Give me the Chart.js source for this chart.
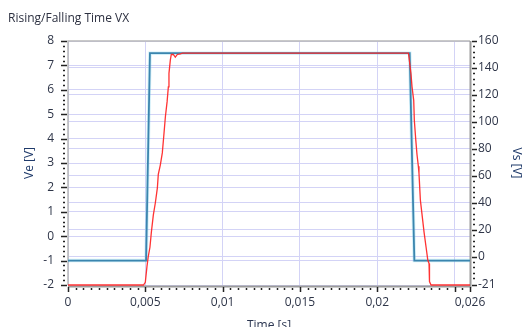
<!DOCTYPE html>
<html>
<head>
<meta charset="utf-8">
<title>Rising/Falling Time VX</title>
<script src="https://cdn.jsdelivr.net/npm/chart.js@4.4.1/dist/chart.umd.min.js"></script>
<style>
  html, body { margin: 0; padding: 0; background: #fff; overflow: hidden; }
  #wrap { width: 525px; height: 335px; }
</style>
</head>
<body>
<div id="wrap"><canvas id="chart" width="525" height="335"></canvas></div>
<script>
// Ve trace (left axis, volts)
const veTime = [0, 0.00505, 0.0053, 0.0221, 0.0224, 0.026];
const veValues = [-1, -1, 7.5, 7.5, -1, -1];

// Vs trace (right axis, volts)
const vsTime = [
  0, 0.00488, 0.00500, 0.00511, 0.00519, 0.00530, 0.00539, 0.00552, 0.00565,
  0.00578, 0.00584, 0.00597, 0.00610, 0.00619, 0.00630, 0.00641, 0.00649,
  0.00653, 0.00662, 0.00668, 0.00681, 0.00694, 0.00707, 0.00727, 0.00740,
  0.02202, 0.02218, 0.02225, 0.02236, 0.02240, 0.02249, 0.02257, 0.02266,
  0.02270, 0.02279, 0.02290, 0.02303, 0.02316, 0.02327, 0.02335, 0.02338,
  0.02348, 0.026
];
const vsValues = [
  -21, -21, -19, -7, 0, 7, 18, 31, 40,
  51, 61, 68, 77, 89, 104, 115, 126,
  136, 146, 150, 150, 148, 150, 150.5, 151,
  151, 136, 126, 116, 101, 87, 76, 67,
  62, 42, 31, 18, 7, -2.5, -5, -18.5,
  -21, -21
];

// Axis ticks
const xTicks = [0, 0.005, 0.01, 0.015, 0.02, 0.025, 0.026];
const xTickLabels = ['0', '0,005', '0,01', '0,015', '0,02', '', '0,026'];
const veTicks = [-2, -1, 0, 1, 2, 3, 4, 5, 6, 7, 8];
const vsTicks = [-21, 0, 20, 40, 60, 80, 100, 120, 140, 160];

const textColor = '#2e3548';
const gridColor = '#d3d3f6';

Chart.defaults.font.family = '"Open Sans", sans-serif';
Chart.defaults.font.size = 12;
Chart.defaults.color = textColor;

const toPoints = (xs, ys) => xs.map((x, i) => ({ x: x, y: ys[i] }));

/**
 * Draws the plot frame (behind the traces) plus major and minor tick marks
 */
const axisMarks = {
  id: 'axisMarks',
  beforeDatasetsDraw(chart) {
    const { ctx, chartArea: a } = chart;
    ctx.save();
    ctx.lineWidth = 1.5;
    ctx.strokeStyle = '#b8b8b8';
    ctx.beginPath();
    ctx.moveTo(a.left, a.bottom);
    ctx.lineTo(a.left, a.top);
    ctx.lineTo(a.right, a.top);
    ctx.stroke();
    ctx.lineWidth = 2;
    ctx.strokeStyle = '#9a9a9a';
    ctx.beginPath();
    ctx.moveTo(a.right + 0.5, a.top);
    ctx.lineTo(a.right + 0.5, a.bottom + 1.5);
    ctx.lineTo(a.left, a.bottom + 1.5);
    ctx.stroke();
    ctx.restore();
  },
  afterDraw(chart) {
    const { ctx, chartArea: a, scales } = chart;
    ctx.save();
    ctx.strokeStyle = '#222';
    ctx.lineWidth = 1.5;
    const hTick = (x1, x2, y) => {
      ctx.beginPath();
      ctx.moveTo(x1, Math.round(y) + 0.5);
      ctx.lineTo(x2, Math.round(y) + 0.5);
      ctx.stroke();
    };
    const vTick = (x, y1, y2) => {
      ctx.beginPath();
      ctx.moveTo(Math.round(x) + 0.5, y1);
      ctx.lineTo(Math.round(x) + 0.5, y2);
      ctx.stroke();
    };

    // left axis
    veTicks.forEach(v => hTick(a.left - 7, a.left - 1, scales.y.getPixelForValue(v)));
    for (let v = -2; v <= 8.001; v += 0.2) {
      if (Math.abs(v - Math.round(v)) < 0.01) continue;
      hTick(a.left - 5, a.left - 3, scales.y.getPixelForValue(v));
    }

    // right axis
    vsTicks.forEach(v => hTick(a.right + 2, a.right + 7, scales.y2.getPixelForValue(v)));
    for (let v = -20; v <= 160; v += 4) {
      if (v % 20 === 0) continue;
      hTick(a.right + 3, a.right + 5, scales.y2.getPixelForValue(v));
    }

    // bottom axis
    xTicks.forEach(v => vTick(scales.x.getPixelForValue(v), a.bottom + 2, a.bottom + 7));
    for (let i = 1; i < 52; i++) {
      if (i % 10 === 0) continue;
      vTick(scales.x.getPixelForValue(i * 0.0005), a.bottom + 3, a.bottom + 5);
    }

    ctx.restore();
  }
};

const ctx = document.getElementById('chart').getContext('2d');
const chart = new Chart(ctx, {
  type: 'line',
  data: {
    datasets: [
      {
        label: 'Vs',
        data: toPoints(vsTime, vsValues),
        yAxisID: 'y2',
        borderColor: 'rgba(255, 40, 40, 0.95)',
        borderWidth: 1.3,
        pointRadius: 0,
        tension: 0,
        clip: false
      },
      {
        label: 'Ve halo',
        data: toPoints(veTime, veValues),
        yAxisID: 'y',
        borderColor: 'rgba(120, 205, 235, 0.35)',
        borderWidth: 3.5,
        pointRadius: 0,
        tension: 0,
        clip: false
      },
      {
        label: 'Ve',
        data: toPoints(veTime, veValues),
        yAxisID: 'y',
        borderColor: '#1b5f8e',
        borderWidth: 1.8,
        pointRadius: 0,
        tension: 0,
        clip: false
      }
    ]
  },
  options: {
    responsive: false,
    animation: false,
    layout: { padding: { left: 8, right: 0, top: 0, bottom: 0 } },
    plugins: {
      legend: { display: false },
      tooltip: { enabled: false },
      title: {
        display: true,
        text: 'Rising/Falling Time VX',
        align: 'start',
        color: '#2c3040',
        font: { size: 12, weight: 'normal' },
        padding: { top: 11, bottom: 15.6 }
      }
    },
    scales: {
      x: {
        type: 'linear',
        min: 0,
        max: 0.026,
        afterFit: s => { s.height = 50; },
        afterBuildTicks: s => { s.ticks = xTicks.map(v => ({ value: v })); },
        ticks: {
          autoSkip: false,
          maxRotation: 0,
          padding: 10,
          color: textColor,
          callback: (v, i) => xTickLabels[i]
        },
        grid: { color: gridColor, drawTicks: false },
        border: { display: false },
        title: {
          display: true,
          text: 'Time [s]',
          color: '#2a3550',
          font: { size: 12, lineHeight: 1 },
          padding: { top: 0, bottom: 3 }
        }
      },
      y: {
        position: 'left',
        min: -2,
        max: 8,
        afterFit: s => { s.width = 60; },
        afterBuildTicks: s => { s.ticks = veTicks.map(v => ({ value: v })); },
        ticks: { padding: 14, color: textColor },
        grid: { color: gridColor, drawTicks: false },
        border: { display: false },
        title: {
          display: true,
          text: 'Ve [V]',
          color: '#1f3a6a',
          font: { size: 12 },
          padding: { top: 14, bottom: 0 }
        }
      },
      y2: {
        position: 'right',
        min: -21,
        max: 160,
        afterFit: s => { s.width = 55; },
        afterBuildTicks: s => { s.ticks = vsTicks.map(v => ({ value: v })); },
        ticks: { padding: 8, color: textColor },
        grid: { color: gridColor, drawTicks: false },
        border: { display: false },
        title: {
          display: true,
          text: 'Vs [V]',
          color: '#1f3a6a',
          font: { size: 12 },
          padding: { top: 1, bottom: 0 }
        }
      }
    }
  },
  plugins: [axisMarks]
});
</script>
</body>
</html>
